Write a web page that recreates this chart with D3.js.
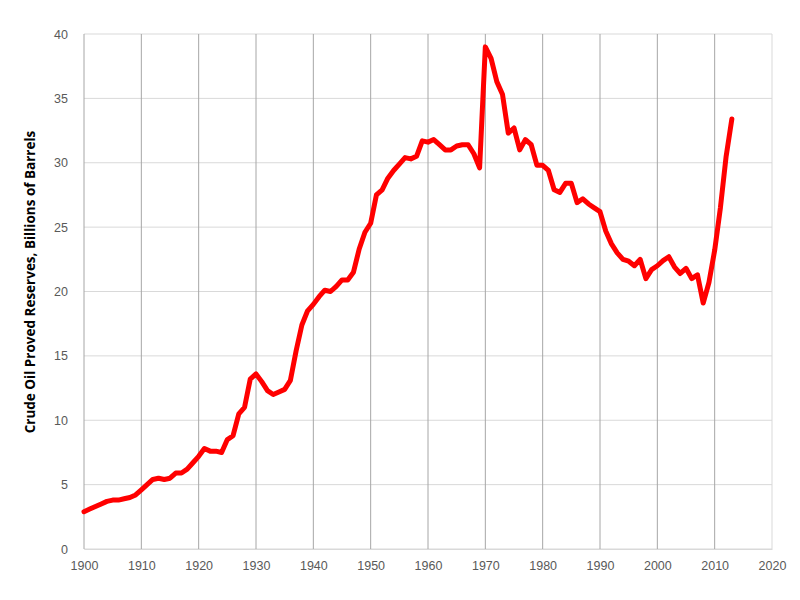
<!DOCTYPE html>
<html>
<head>
<meta charset="utf-8">
<script src="https://cdn.jsdelivr.net/npm/d3@7"></script>
<style>
  body { margin: 0; background: #fff; }
  svg { font-family: "Open Sans", "Liberation Sans", sans-serif; }
</style>
</head>
<body>
<script>
    // US crude oil proved reserves, billions of barrels
    var years = d3.range(1900, 2014);
    var reserves = [
        2.9, 3.1, 3.3, 3.5, 3.7, 3.8, 3.8, 3.9, 4.0, 4.2,   // 1900s
        4.6, 5.0, 5.4, 5.5, 5.4, 5.5, 5.9, 5.9, 6.2, 6.7,   // 1910s
        7.2, 7.8, 7.6, 7.6, 7.5, 8.5, 8.8, 10.5, 11.0, 13.2, // 1920s
        13.6, 13.0, 12.3, 12.0, 12.2, 12.4, 13.1, 15.4, 17.4, 18.5, // 1930s
        19.0, 19.6, 20.1, 20.0, 20.4, 20.9, 20.9, 21.5, 23.3, 24.6, // 1940s
        25.3, 27.5, 27.9, 28.8, 29.4, 29.9, 30.4, 30.3, 30.5, 31.7, // 1950s
        31.6, 31.8, 31.4, 31.0, 31.0, 31.3, 31.4, 31.4, 30.7, 29.6, // 1960s
        39.0, 38.1, 36.3, 35.3, 32.3, 32.7, 31.0, 31.8, 31.4, 29.8, // 1970s
        29.8, 29.4, 27.9, 27.7, 28.4, 28.4, 26.9, 27.2, 26.8, 26.5, // 1980s
        26.2, 24.7, 23.7, 23.0, 22.5, 22.35, 22.0, 22.5, 21.0, 21.7, // 1990s
        22.0, 22.4, 22.7, 21.9, 21.4, 21.8, 21.0, 21.3, 19.1, 20.7, // 2000s
        23.2, 26.5, 30.5, 33.4                                     // 2010s
    ];
    var xTicks = d3.range(1900, 2021, 10);
    var yTicks = d3.range(0, 41, 5);

    var width = 800;
    var height = 600;
    var margin = {top: 34, right: 28, bottom: 51, left: 84};

    var svg = d3.select('body')
        .append('svg')
        .attr('width', width)
        .attr('height', height);

    var xScale = d3.scaleLinear()
        .domain([1900, 2020])
        .range([margin.left, width - margin.right]);

    var yScale = d3.scaleLinear()
        .domain([0, 40])
        .range([height - margin.bottom, margin.top]);

    // horizontal grid
    svg.append('g')
        .selectAll('line')
        .data(yTicks)
        .enter()
        .append('line')
        .attr('x1', margin.left)
        .attr('x2', width - margin.right)
        .attr('y1', d => yScale(d))
        .attr('y2', d => yScale(d))
        .attr('stroke', '#d9d9d9')
        .attr('stroke-width', 1);

    // vertical grid
    svg.append('g')
        .selectAll('line')
        .data(xTicks)
        .enter()
        .append('line')
        .attr('x1', d => xScale(d))
        .attr('x2', d => xScale(d))
        .attr('y1', yScale(40))
        .attr('y2', yScale(0))
        .attr('stroke', d => d === 2020 ? '#d9d9d9' : '#a6a6a6')
        .attr('stroke-width', 1);

    // axes (labels only)
    var xAxis = d3.axisBottom(xScale)
        .tickValues(xTicks)
        .tickFormat(d3.format('d'))
        .tickSize(0)
        .tickPadding(12);

    svg.append('g')
        .attr('id', 'x-axis')
        .attr('transform', 'translate(0,' + (height - margin.bottom) + ')')
        .call(xAxis)
        .call(g => g.select('.domain').attr('stroke', '#d9d9d9'))
        .selectAll('text')
        .attr('fill', '#595959')
        .style('font-size', '12.5px');

    var yAxis = d3.axisLeft(yScale)
        .tickValues(yTicks)
        .tickSize(0)
        .tickPadding(16);

    svg.append('g')
        .attr('id', 'y-axis')
        .attr('transform', 'translate(' + margin.left + ',0)')
        .call(yAxis)
        .call(g => g.select('.domain').remove())
        .selectAll('text')
        .attr('fill', '#595959')
        .style('font-size', '12.5px');

    // y axis title
    svg.append('text')
        .attr('transform', 'translate(35,282) rotate(-90)')
        .attr('text-anchor', 'middle')
        .style('font-size', '13.5px')
        .style('font-weight', 'bold')
        .attr('fill', '#000')
        .text('Crude Oil Proved Reserves, Billions of Barrels');

    // the line
    var line = d3.line()
        .x((d, i) => xScale(years[i]))
        .y(d => yScale(d));

    svg.append('path')
        .datum(reserves)
        .attr('d', line)
        .attr('fill', 'none')
        .attr('stroke', '#ff0000')
        .attr('stroke-width', 5)
        .attr('stroke-linejoin', 'round')
        .attr('stroke-linecap', 'round');
</script>
</body>
</html>
